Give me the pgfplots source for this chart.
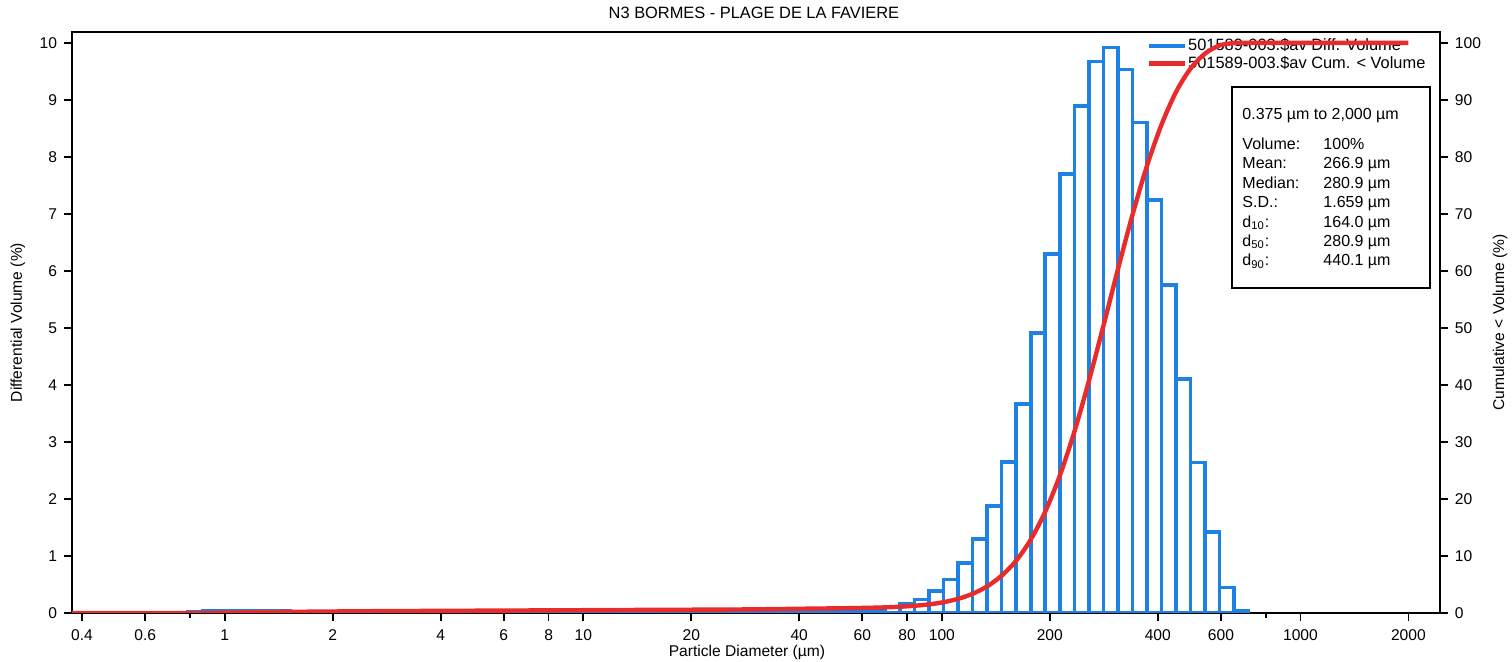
\documentclass[border=0pt]{standalone}
\usepackage{fontspec}
\setmainfont{Liberation Sans}
\usepackage{pgfplots}
\pgfplotsset{compat=1.18}
\definecolor{diffblue}{RGB}{30,130,228}
\definecolor{cumred}{RGB}{232,44,44}

\begin{document}
\begin{tikzpicture}
\useasboundingbox (0,0) rectangle (756bp,331bp);

\begin{axis}[
    scale only axis, width=684bp, height=290.5bp,
    at={(36bp,24.5bp)}, anchor=south west,
    xmode=log, xmin=0.375, xmax=2450,
    ymin=0, ymax=10.19,
    axis line style={line width=1.2bp},
    tick style={line width=0.9bp, black},
    tick align=outside,
    major tick length=4bp,
    tick label style={font=\fontsize{7.8bp}{9bp}\selectfont},
    label style={font=\fontsize{7.8bp}{9bp}\selectfont},
    /pgf/number format/assume math mode=true,
    ytick={0,1,...,10},
    xtick pos=bottom, ytick pos=left,
    xtick={0.4,0.6,1,2,4,6,8,10,20,40,60,80,100,200,400,600,1000,2000},
    xticklabels={0.4,0.6,1,2,4,6,8,10,20,40,60,80,100,200,400,600,1000,2000},
    minor xtick={0.8,800},
    minor tick length=2.5bp,
    xticklabel style={yshift=-1bp},
    xlabel={Particle Diameter (µm)},
    xlabel style={at={(axis description cs:0.4934,-0.0671)}, anchor=center},
    ylabel={Differential Volume (\%)},
    ylabel style={at={(axis description cs:-0.0395,0.5)}, anchor=center},
    title={N3 BORMES - PLAGE DE LA FAVIERE},
    title style={at={(axis description cs:0.4985,1.0224)}, anchor=base,
      yshift=-6pt, inner sep=0pt, font=\fontsize{8.2bp}{9bp}\selectfont},
    legend style={at={(rel axis cs:0.9905,0.9914)}, anchor=north east,
      draw=none, fill=none, inner sep=0pt, row sep=0pt,
      font=\fontsize{8.2bp}{9.6bp}\selectfont,
      nodes={inner sep=0.6bp}},
    legend cell align=left,
  ]
\addplot[ybar interval, draw=diffblue, fill=white, line width=1.8bp,
  legend image code/.code={\draw[diffblue, line width=2.2bp] (0bp,0bp) -- (18bp,0bp);}]
coordinates {
(0.791,0.02) (0.869,0.03) (0.953,0.03) (1.047,0.03) (1.149,0.03) (1.261,0.03)
(1.385,0.03) (1.520,0.02) (1.669,0.02) (1.832,0.02) (2.010,0.02) (2.207,0.02)
(2.423,0.02) (2.660,0.012) (2.920,0.012) (3.205,0.012) (3.519,0.012) (3.863,0.012)
(4.240,0.012) (4.655,0.012) (5.110,0.012) (5.610,0.012) (6.158,0.012) (6.760,0.012)
(7.421,0.012) (8.147,0.012) (8.943,0.012) (9.817,0.012) (10.78,0.012) (11.83,0.012)
(12.99,0.012) (14.26,0.012) (15.65,0.012) (17.18,0.012) (18.86,0.012) (20.71,0.012)
(22.73,0.012) (24.95,0.012) (27.39,0.03) (30.07,0.03) (33.01,0.03) (36.24,0.03)
(39.78,0.03) (43.67,0.03) (47.94,0.03) (52.62,0.04) (57.77,0.05) (63.41,0.07)
(69.61,0.11) (76.42,0.17) (83.89,0.24) (92.09,0.39) (101.1,0.59) (111.0,0.88)
(121.8,1.30) (133.7,1.88) (146.8,2.65) (161.2,3.67) (176.9,4.91) (194.2,6.30)
(213.2,7.70) (234.1,8.89) (256.9,9.67) (282.1,9.92) (309.6,9.53) (339.9,8.60)
(373.1,7.24) (409.6,5.75) (449.7,4.10) (493.6,2.64) (541.9,1.42) (594.9,0.45)
(653.0,0.03) (716.9,0)
};
\addlegendentry{501589-003.\$av Diff. Volume}
\addlegendimage{legend image code/.code={\draw[cumred, line width=2.2bp] (0bp,0bp) -- (18bp,0bp);}}
\addlegendentry{501589-003.\$av Cum. < Volume}

\draw[line width=1bp] (rel axis cs:0.8480,0.9053) rectangle (rel axis cs:0.9927,0.5594);
\node[anchor=north west, align=left, inner sep=0pt,
  font=\fontsize{8bp}{9.7bp}\selectfont] at (rel axis cs:0.8553,0.8692)
  {0.375 µm to 2,000 µm\\[5.3bp]
   \makebox[40.5bp][l]{Volume:}100\%\\
   \makebox[40.5bp][l]{Mean:}266.9 µm\\
   \makebox[40.5bp][l]{Median:}280.9 µm\\
   \makebox[40.5bp][l]{S.D.:}1.659 µm\\
   \makebox[40.5bp][l]{d\textsubscript{10}:}164.0 µm\\
   \makebox[40.5bp][l]{d\textsubscript{50}:}280.9 µm\\
   \makebox[40.5bp][l]{d\textsubscript{90}:}440.1 µm};
\end{axis}

\begin{axis}[
    scale only axis, width=684bp, height=290.5bp,
    at={(36bp,24.5bp)}, anchor=south west,
    xmode=log, xmin=0.375, xmax=2450,
    ymin=0, ymax=101.9,
    axis x line=none, axis y line*=right,
    axis line style={line width=1.2bp},
    tick style={line width=0.9bp, black},
    tick align=outside,
    major tick length=4bp,
    tick label style={font=\fontsize{7.8bp}{9bp}\selectfont},
    label style={font=\fontsize{7.8bp}{9bp}\selectfont},
    /pgf/number format/assume math mode=true,
    ytick={0,10,...,100},
    ylabel={Cumulative < Volume (\%)},
    ylabel style={at={(axis description cs:1.0439,0.5)}, anchor=center},
  ]
\addplot[cumred, line width=2.2bp, smooth] coordinates {
(0.375,0) (0.791,0) (0.869,0.02) (1.520,0.20) (2.660,0.32) (6.158,0.43)
(15.65,0.55) (27.39,0.62) (39.78,0.74) (52.62,0.83) (57.77,0.87) (63.41,0.92)
(69.61,0.99) (76.42,1.10) (83.89,1.27) (92.09,1.51) (101.1,1.90) (111.0,2.49)
(121.8,3.37) (133.7,4.67) (146.8,6.55) (161.2,9.20) (176.9,12.87) (194.2,17.78)
(213.2,24.08) (234.1,31.78) (256.9,40.67) (282.1,50.34) (309.6,60.26) (339.9,69.79)
(373.1,78.39) (409.6,85.63) (449.7,91.38) (493.6,95.48) (541.9,98.12) (594.9,99.54)
(653.0,99.95) (716.9,100) (2000,100)
};
\end{axis}
\end{tikzpicture}
\end{document}
